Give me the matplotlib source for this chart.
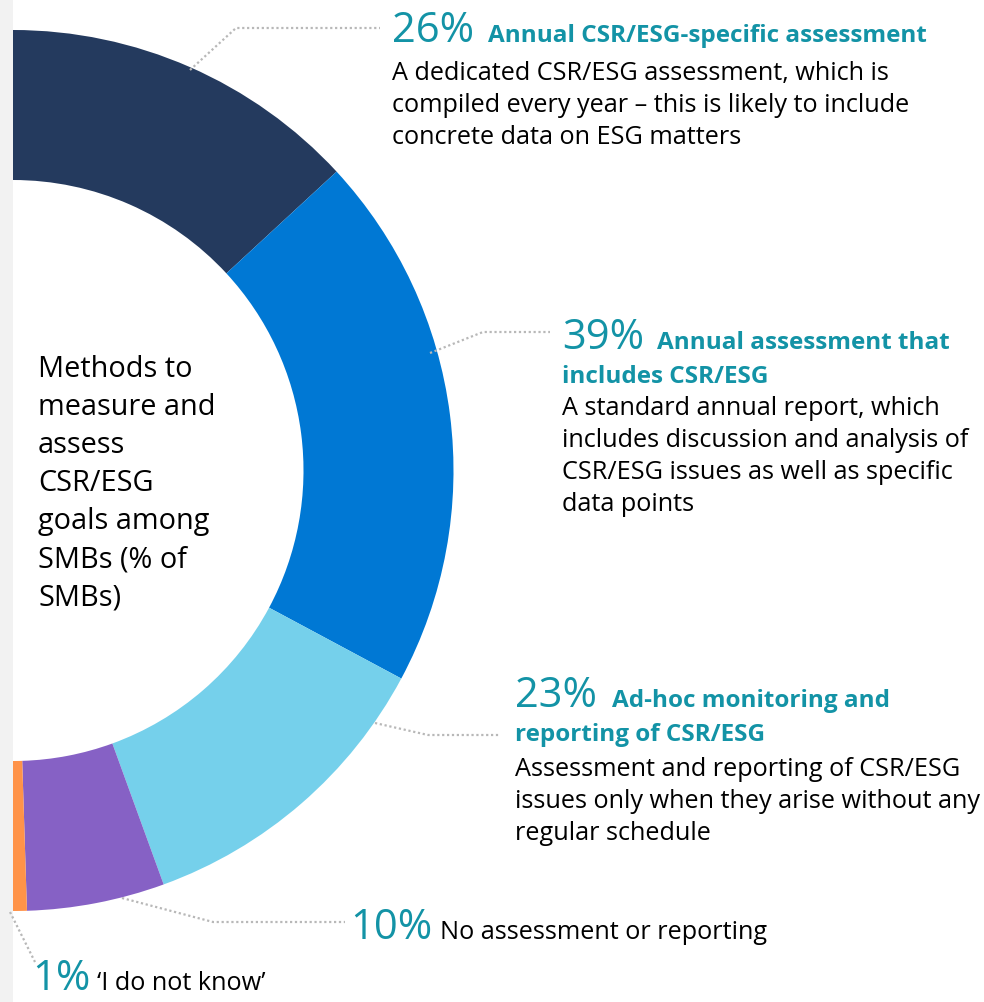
import matplotlib
matplotlib.use("Agg")
import matplotlib.pyplot as plt

# ---------------- data ----------------
categories = [
    "Annual CSR/ESG-specific assessment",
    "Annual assessment that includes CSR/ESG",
    "Ad-hoc monitoring and reporting of CSR/ESG",
    "No assessment or reporting",
    "'I do not know'",
]
values = [26, 39, 23, 10, 1]
pct_labels = ["26%", "39%", "23%", "10%", "1%"]
colors = ["#243a5e", "#0078d4", "#75d0eb", "#8661c5", "#ff9349"]

title_lines = [
    ["Annual CSR/ESG-specific assessment"],
    ["Annual assessment that", "includes CSR/ESG"],
    ["Ad-hoc monitoring and", "reporting of CSR/ESG"],
    [],
    [],
]
body_lines = [
    ["A dedicated CSR/ESG assessment, which is",
     "compiled every year \u2013 this is likely to include",
     "concrete data on ESG matters"],
    ["A standard annual report, which",
     "includes discussion and analysis of",
     "CSR/ESG issues as well as specific",
     "data points"],
    ["Assessment and reporting of CSR/ESG",
     "issues only when they arise without any",
     "regular schedule"],
    ["No assessment or reporting"],
    ["\u2018I do not know\u2019"],
]
center_lines = ["Methods to", "measure and", "assess", "CSR/ESG",
                "goals among", "SMBs (% of", "SMBs)"]

# ---------------- style / layout ----------------
W, H = 984, 1002
FONT = "Open Sans"
TEAL = "#1393a6"
LEADER = "#b8b8b8"

fig = plt.figure(figsize=(W / 100, H / 100), dpi=100)
ax = fig.add_axes([0, 0, 1, 1])

def Y(y):  # pixel (top-origin) -> data y
    return H - y

# grey strip at left
ax.axvspan(0, 13, color="#f2f2f2", zorder=0, lw=0)

# donut: visible half = 180 degrees
cx, cy, R, ring = 13, 470.5, 440.5, 150
hidden = sum(values)
ax.pie(values + [hidden], colors=colors + ["none"], startangle=90,
       counterclock=False, radius=R, center=(cx, Y(cy)),
       wedgeprops=dict(width=ring, linewidth=0), frame=True)

# leader lines (pixel coords)
leaders = [
    [(190, 70), (236, 28), (380, 28)],
    [(430, 353), (483, 332), (550, 332)],
    [(375, 723), (428, 735), (500, 735)],
    [(122, 898), (213, 922), (345, 922)],
    [(10, 912), (35, 962)],
]
for pts in leaders:
    xs = [p[0] for p in pts]
    ys = [Y(p[1]) for p in pts]
    ax.plot(xs, ys, color=LEADER, lw=1.6, ls=(0, (1, 1.2)), zorder=3)

# label blocks
blocks = [
    dict(xp=392, yb=42, xt=488, xb=392, body_y=80),
    dict(xp=562, yb=349, xt=657, xb=562, body_y=415),
    dict(xp=515, yb=707, xt=612, xb=515, body_y=776),
    dict(xp=350, yb=939, xt=440, xb=350, body_y=None),
    dict(xp=32, yb=990, xt=97, xb=32, body_y=None),
]
PCT_SIZE = 30
TITLE_SIZE = 17.5
BODY_SIZE = 18.2
STEP = 32
TSTEP = 34

for i, b in enumerate(blocks):
    ax.text(b["xp"], Y(b["yb"]), pct_labels[i], fontsize=PCT_SIZE, color=TEAL,
            family=FONT, weight=500, va="baseline", ha="left")
    tl = title_lines[i]
    for j, line in enumerate(tl):
        x = b["xt"] if j == 0 else b["xb"]
        ax.text(x, Y(b["yb"] + j * TSTEP), line, fontsize=TITLE_SIZE, color=TEAL,
                family=FONT, weight="bold", va="baseline", ha="left")
    bl = body_lines[i]
    if b["body_y"] is None:
        ax.text(b["xt"], Y(b["yb"]), bl[0], fontsize=BODY_SIZE, color="black",
                family=FONT, va="baseline", ha="left")
    else:
        for j, line in enumerate(bl):
            ax.text(b["xb"], Y(b["body_y"] + j * STEP), line, fontsize=BODY_SIZE,
                    color="black", family=FONT, va="baseline", ha="left")

for j, line in enumerate(center_lines):
    ax.text(38, Y(377 + j * 38), line, fontsize=20.8, color="black",
            family=FONT, va="baseline", ha="left")

ax.set_xlim(0, W)
ax.set_ylim(0, H)
ax.set_aspect("equal")
ax.axis("off")

fig.savefig("out.png", dpi=100, facecolor="white")
